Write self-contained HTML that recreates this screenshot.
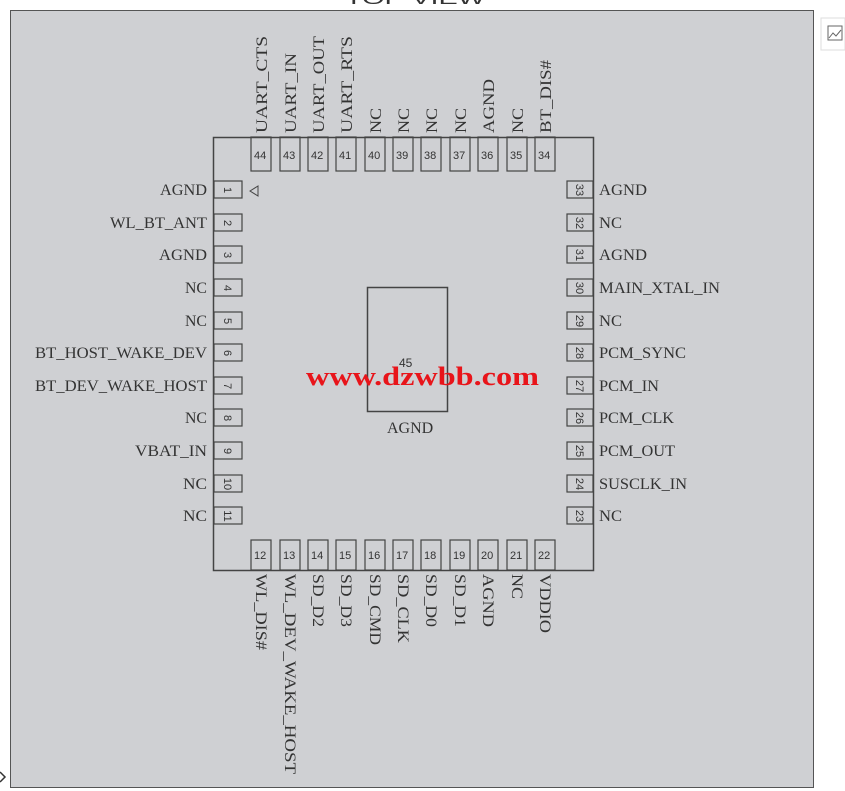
<!DOCTYPE html>
<html><head><meta charset="utf-8"><style>
html,body{margin:0;padding:0;background:#fff;}
svg{display:block;}
text{font-family:"Liberation Serif",serif;font-size:16px;fill:#333;}
.n{font-family:"Liberation Sans",sans-serif;font-size:11px;fill:#333;}
</style></head><body>
<svg width="845" height="791" viewBox="0 0 845 791" xmlns="http://www.w3.org/2000/svg">
<rect x="0" y="0" width="845" height="791" fill="#fff"/>
<text x="345" y="4" style="font-family:'Liberation Sans',sans-serif;font-size:16px" textLength="140" lengthAdjust="spacingAndGlyphs">TOP VIEW</text>
<rect x="10.5" y="10.5" width="803" height="777" fill="#cfd0d3" stroke="#555" stroke-width="1"/>
<rect x="821" y="18" width="24" height="32" fill="#fff" stroke="#ddd"/>
<rect x="828" y="26" width="14" height="14" fill="none" stroke="#666"/>
<path d="M829 38 L833 33 L836 36 L841 30" fill="none" stroke="#666"/>
<path d="M0 772 L5 777 L0 782" fill="none" stroke="#333" stroke-width="1.5"/>
<rect x="213.5" y="137.5" width="380" height="433" fill="none" stroke="#444" stroke-width="1.5"/>
<rect x="367.5" y="287.5" width="80" height="124" fill="none" stroke="#444" stroke-width="1.5"/>
<text x="399" y="367" class="n" style="font-size:12px">45</text>
<text x="387" y="433">AGND</text>
<path d="M250 191 L258 186 L258 196 Z" fill="none" stroke="#444"/>
<g stroke="#444" stroke-width="1.2" fill="none">
<rect x="251" y="137" width="20" height="34"/><rect x="280" y="137" width="20" height="34"/><rect x="308" y="137" width="20" height="34"/><rect x="336" y="137" width="20" height="34"/><rect x="365" y="137" width="20" height="34"/><rect x="393" y="137" width="20" height="34"/><rect x="421" y="137" width="20" height="34"/><rect x="450" y="137" width="20" height="34"/><rect x="478" y="137" width="20" height="34"/><rect x="507" y="137" width="20" height="34"/><rect x="535" y="137" width="20" height="34"/>
<rect x="251" y="540" width="20" height="30"/><rect x="280" y="540" width="20" height="30"/><rect x="308" y="540" width="20" height="30"/><rect x="336" y="540" width="20" height="30"/><rect x="365" y="540" width="20" height="30"/><rect x="393" y="540" width="20" height="30"/><rect x="421" y="540" width="20" height="30"/><rect x="450" y="540" width="20" height="30"/><rect x="478" y="540" width="20" height="30"/><rect x="507" y="540" width="20" height="30"/><rect x="535" y="540" width="20" height="30"/>
</g>
<g stroke="#444" stroke-width="1.2" fill="none">
<rect x="214" y="181" width="28" height="17"/><rect x="214" y="214" width="28" height="17"/><rect x="214" y="246" width="28" height="17"/><rect x="214" y="279" width="28" height="17"/><rect x="214" y="312" width="28" height="17"/><rect x="214" y="344" width="28" height="17"/><rect x="214" y="377" width="28" height="17"/><rect x="214" y="409" width="28" height="17"/><rect x="214" y="442" width="28" height="17"/><rect x="214" y="475" width="28" height="17"/><rect x="214" y="507" width="28" height="17"/>
<rect x="567" y="181" width="26" height="17"/><rect x="567" y="214" width="26" height="17"/><rect x="567" y="246" width="26" height="17"/><rect x="567" y="279" width="26" height="17"/><rect x="567" y="312" width="26" height="17"/><rect x="567" y="344" width="26" height="17"/><rect x="567" y="377" width="26" height="17"/><rect x="567" y="409" width="26" height="17"/><rect x="567" y="442" width="26" height="17"/><rect x="567" y="475" width="26" height="17"/><rect x="567" y="507" width="26" height="17"/>
</g>
<g>
<text class="n" x="254" y="159">44</text><text class="n" x="283" y="159">43</text><text class="n" x="311" y="159">42</text><text class="n" x="339" y="159">41</text><text class="n" x="368" y="159">40</text><text class="n" x="396" y="159">39</text><text class="n" x="424" y="159">38</text><text class="n" x="453" y="159">37</text><text class="n" x="481" y="159">36</text><text class="n" x="510" y="159">35</text><text class="n" x="538" y="159">34</text>
<text class="n" x="254" y="559">12</text><text class="n" x="283" y="559">13</text><text class="n" x="311" y="559">14</text><text class="n" x="339" y="559">15</text><text class="n" x="368" y="559">16</text><text class="n" x="396" y="559">17</text><text class="n" x="424" y="559">18</text><text class="n" x="453" y="559">19</text><text class="n" x="481" y="559">20</text><text class="n" x="510" y="559">21</text><text class="n" x="538" y="559">22</text>
</g>
<g>
<text class="n" transform="translate(224,190) rotate(90)" text-anchor="middle">1</text>
<text class="n" transform="translate(224,223) rotate(90)" text-anchor="middle">2</text>
<text class="n" transform="translate(224,255) rotate(90)" text-anchor="middle">3</text>
<text class="n" transform="translate(224,288) rotate(90)" text-anchor="middle">4</text>
<text class="n" transform="translate(224,321) rotate(90)" text-anchor="middle">5</text>
<text class="n" transform="translate(224,353) rotate(90)" text-anchor="middle">6</text>
<text class="n" transform="translate(224,386) rotate(90)" text-anchor="middle">7</text>
<text class="n" transform="translate(224,418) rotate(90)" text-anchor="middle">8</text>
<text class="n" transform="translate(224,451) rotate(90)" text-anchor="middle">9</text>
<text class="n" transform="translate(224,484) rotate(90)" text-anchor="middle">10</text>
<text class="n" transform="translate(224,516) rotate(90)" text-anchor="middle">11</text>
<text class="n" transform="translate(576,190) rotate(90)" text-anchor="middle">33</text>
<text class="n" transform="translate(576,223) rotate(90)" text-anchor="middle">32</text>
<text class="n" transform="translate(576,255) rotate(90)" text-anchor="middle">31</text>
<text class="n" transform="translate(576,288) rotate(90)" text-anchor="middle">30</text>
<text class="n" transform="translate(576,321) rotate(90)" text-anchor="middle">29</text>
<text class="n" transform="translate(576,353) rotate(90)" text-anchor="middle">28</text>
<text class="n" transform="translate(576,386) rotate(90)" text-anchor="middle">27</text>
<text class="n" transform="translate(576,418) rotate(90)" text-anchor="middle">26</text>
<text class="n" transform="translate(576,451) rotate(90)" text-anchor="middle">25</text>
<text class="n" transform="translate(576,484) rotate(90)" text-anchor="middle">24</text>
<text class="n" transform="translate(576,516) rotate(90)" text-anchor="middle">23</text>
</g>
<g text-anchor="end">
<text x="207" y="195" textLength="47" lengthAdjust="spacingAndGlyphs">AGND</text>
<text x="207" y="228" textLength="97" lengthAdjust="spacingAndGlyphs">WL_BT_ANT</text>
<text x="207" y="260" textLength="48" lengthAdjust="spacingAndGlyphs">AGND</text>
<text x="207" y="293" textLength="22" lengthAdjust="spacingAndGlyphs">NC</text>
<text x="207" y="326" textLength="22" lengthAdjust="spacingAndGlyphs">NC</text>
<text x="207" y="358" textLength="172" lengthAdjust="spacingAndGlyphs">BT_HOST_WAKE_DEV</text>
<text x="207" y="391" textLength="172" lengthAdjust="spacingAndGlyphs">BT_DEV_WAKE_HOST</text>
<text x="207" y="423" textLength="22" lengthAdjust="spacingAndGlyphs">NC</text>
<text x="207" y="456" textLength="72" lengthAdjust="spacingAndGlyphs">VBAT_IN</text>
<text x="207" y="489" textLength="24" lengthAdjust="spacingAndGlyphs">NC</text>
<text x="207" y="521" textLength="24" lengthAdjust="spacingAndGlyphs">NC</text>
</g>
<g>
<text x="599" y="195" textLength="48" lengthAdjust="spacingAndGlyphs">AGND</text>
<text x="599" y="228" textLength="23" lengthAdjust="spacingAndGlyphs">NC</text>
<text x="599" y="260" textLength="48" lengthAdjust="spacingAndGlyphs">AGND</text>
<text x="599" y="293" textLength="121" lengthAdjust="spacingAndGlyphs">MAIN_XTAL_IN</text>
<text x="599" y="326" textLength="23" lengthAdjust="spacingAndGlyphs">NC</text>
<text x="599" y="358" textLength="87" lengthAdjust="spacingAndGlyphs">PCM_SYNC</text>
<text x="599" y="391" textLength="60" lengthAdjust="spacingAndGlyphs">PCM_IN</text>
<text x="599" y="423" textLength="75" lengthAdjust="spacingAndGlyphs">PCM_CLK</text>
<text x="599" y="456" textLength="76" lengthAdjust="spacingAndGlyphs">PCM_OUT</text>
<text x="599" y="489" textLength="88" lengthAdjust="spacingAndGlyphs">SUSCLK_IN</text>
<text x="599" y="521" textLength="23" lengthAdjust="spacingAndGlyphs">NC</text>
</g>
<g>
<text transform="translate(267,133) rotate(-90)" textLength="97" lengthAdjust="spacingAndGlyphs">UART_CTS</text>
<text transform="translate(296,133) rotate(-90)" textLength="80" lengthAdjust="spacingAndGlyphs">UART_IN</text>
<text transform="translate(324,133) rotate(-90)" textLength="97" lengthAdjust="spacingAndGlyphs">UART_OUT</text>
<text transform="translate(352,133) rotate(-90)" textLength="97" lengthAdjust="spacingAndGlyphs">UART_RTS</text>
<text transform="translate(381,133) rotate(-90)" textLength="25" lengthAdjust="spacingAndGlyphs">NC</text>
<text transform="translate(409,133) rotate(-90)" textLength="25" lengthAdjust="spacingAndGlyphs">NC</text>
<text transform="translate(437,133) rotate(-90)" textLength="25" lengthAdjust="spacingAndGlyphs">NC</text>
<text transform="translate(466,133) rotate(-90)" textLength="25" lengthAdjust="spacingAndGlyphs">NC</text>
<text transform="translate(494,133) rotate(-90)" textLength="54" lengthAdjust="spacingAndGlyphs">AGND</text>
<text transform="translate(523,133) rotate(-90)" textLength="25" lengthAdjust="spacingAndGlyphs">NC</text>
<text transform="translate(551,133) rotate(-90)" textLength="73" lengthAdjust="spacingAndGlyphs">BT_DIS#</text>
</g>
<g>
<text transform="translate(256,574) rotate(90)" textLength="76" lengthAdjust="spacingAndGlyphs">WL_DIS#</text>
<text transform="translate(285,574) rotate(90)" textLength="200" lengthAdjust="spacingAndGlyphs">WL_DEV_WAKE_HOST</text>
<text transform="translate(313,574) rotate(90)" textLength="53" lengthAdjust="spacingAndGlyphs">SD_D2</text>
<text transform="translate(341,574) rotate(90)" textLength="53" lengthAdjust="spacingAndGlyphs">SD_D3</text>
<text transform="translate(370,574) rotate(90)" textLength="71" lengthAdjust="spacingAndGlyphs">SD_CMD</text>
<text transform="translate(398,574) rotate(90)" textLength="69" lengthAdjust="spacingAndGlyphs">SD_CLK</text>
<text transform="translate(426,574) rotate(90)" textLength="53" lengthAdjust="spacingAndGlyphs">SD_D0</text>
<text transform="translate(455,574) rotate(90)" textLength="53" lengthAdjust="spacingAndGlyphs">SD_D1</text>
<text transform="translate(483,574) rotate(90)" textLength="53" lengthAdjust="spacingAndGlyphs">AGND</text>
<text transform="translate(512,574) rotate(90)" textLength="25" lengthAdjust="spacingAndGlyphs">NC</text>
<text transform="translate(540,574) rotate(90)" textLength="59" lengthAdjust="spacingAndGlyphs">VDDIO</text>
</g>
<text x="306" y="385" style="font-size:26px;font-weight:bold;fill:#e8141a" textLength="233" lengthAdjust="spacingAndGlyphs">www.dzwbb.com</text>
</svg>
</body></html>
